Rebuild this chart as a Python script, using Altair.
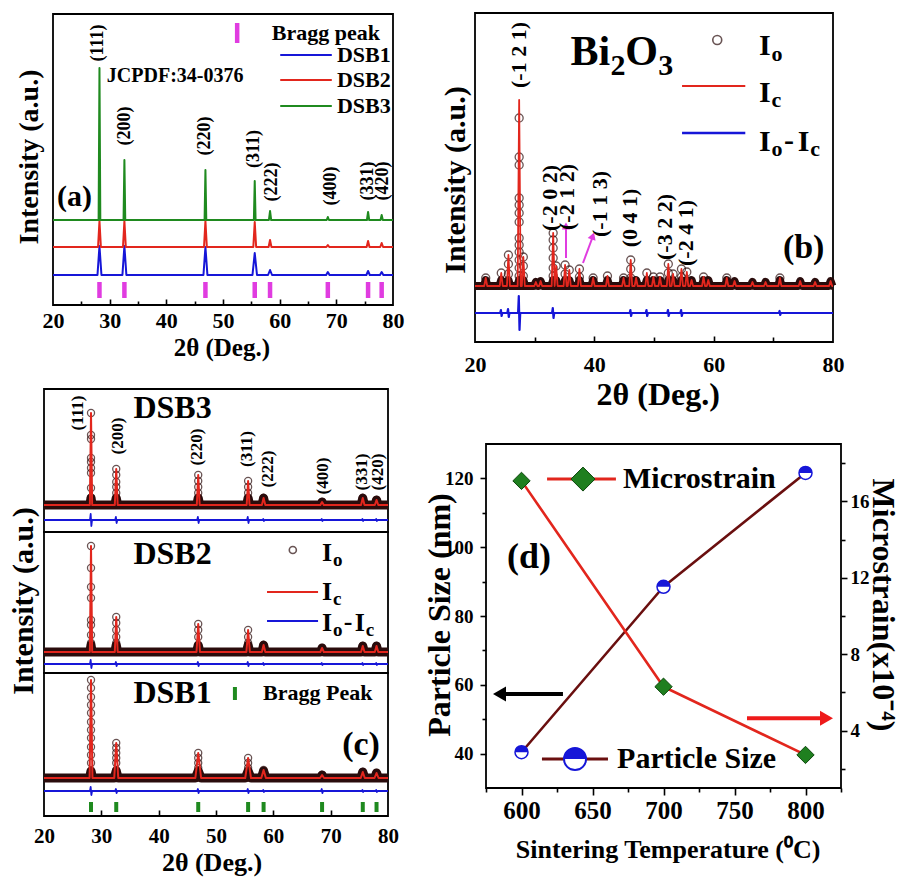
import altair as alt
import pandas as pd

FONT = "Liberation Serif"
BLUE = "#1616d8"
RED = "#e2261d"
GREEN = "#1f8a1f"
MAGENTA = "#e03ce0"
MAROON = "#6a0f0f"
DARK = "#2a0c0c"

# ---------------- panel (a): XRD patterns (offset) ----------------
BRAGG_POS = [28.2, 32.6, 46.9, 55.6, 58.3, 68.5, 75.6, 78.0]
A_DSB1_BASE, A_DSB2_BASE, A_DSB3_BASE = 30, 58, 85
A_DSB1_H = [29, 29, 28, 22, 5, 3, 4, 3]
A_DSB2_H = [26, 26, 26, 25, 7, 2, 6, 4]
A_DSB3_H = [152, 60, 50, 39, 9, 3, 8, 5]
A_DSB1_W = [0.35, 0.35, 0.35, 0.4, 0.35, 0.3, 0.3, 0.3]
A_DSB2_W = [0.25, 0.25, 0.25, 0.25, 0.25, 0.25, 0.25, 0.25]
A_DSB3_W = [0.15, 0.15, 0.15, 0.15, 0.2, 0.2, 0.2, 0.2]
A_HKL = ["(111)", "(200)", "(220)", "(311)", "(222)", "(400)", "(331)", "(420)"]
A_HKL_X = [27.9, 32.7, 46.8, 55.5, 58.6, 69.1, 75.5, 78.2]
A_HKL_Y = [262, 179, 169, 156, 123, 119, 124, 124]
A_X_LABELS = [20, 30, 40, 50, 60, 70, 80]
A_X_MAJOR = [30, 40, 50, 60, 70]
A_X_MINOR = [25, 35, 45, 55, 65, 75]

# ---------------- panel (b): Bi2O3 Rietveld ----------------
B_BASE = 56
B_DIFF_BASE = 29
B_POS = [21.8, 24.4, 25.6, 27.4, 28.1, 30.2, 31.0, 33.1, 33.6, 35.1, 35.8, 37.5, 39.8, 42.2, 44.9,
         46.1, 47.0, 48.8, 49.9, 51.0, 52.4, 53.2, 54.6, 55.5, 56.3, 58.3, 59.1, 62.2, 63.5, 66.5,
         68.7, 71.1, 74.5, 77.0, 79.6]
B_H = [8, 13, 31, 186, 29, 4, 5, 53, 20, 21, 16, 17, 8, 10, 8, 26, 8, 13, 9, 9,
       22, 12, 17, 14, 6, 9, 6, 8, 5, 4, 4, 8, 5, 4, 5]
B_OBS = {27.4: [168, 129, 121, 88, 81, 73, 64, 48, 41, 34, 26, 18, 10],
         33.1: [53, 46, 38, 28, 18, 10], 25.6: [31, 22, 12], 28.1: [29, 20, 10],
         46.1: [26, 17, 8], 52.4: [22, 13], 35.1: [21, 12], 37.5: [17, 9], 35.8: [16],
         24.4: [13], 48.8: [13], 54.6: [17, 9], 55.5: [14], 21.8: [8], 39.8: [8], 42.2: [10],
         44.9: [8], 49.9: [9], 51.0: [9], 53.2: [12], 58.3: [9], 62.2: [8], 71.1: [8], 33.6: [20]}
B_DIFF_POS = [24.4, 25.6, 27.4, 33.1, 46.1, 48.8, 52.4, 54.6, 71.1]
B_DIFF_AMP = [3, 4, 17, 5, 3, 3, 3, 3, 2]
B_HKL = ["(-1 2 1)", "(-2 0 2)", "(-2 1 2)", "(-1 1 3)", "(0 4 1)", "(-3 2 2)", "(-2 4 1)"]
B_HKL_X = [27.4, 32.6, 35.4, 40.9, 46.0, 51.9, 55.4]
B_HKL_Y = [287, 144, 145, 138, 124, 115, 109]
B_X_LABELS = [20, 40, 60, 80]
B_X_MAJOR = [40, 60]
B_X_MINOR = [30, 50, 70]

# ---------------- panel (c): Rietveld of DSB1-3 ----------------
C_BASE = {"DSB3": 311, "DSB2": 164, "DSB1": 38}
C_DIFF_BASE = {"DSB3": 296, "DSB2": 152, "DSB1": 25}
C_H = {"DSB3": [92, 36, 30, 24, 7, 3, 7, 5],
       "DSB2": [106, 35, 28, 22, 7, 4, 6, 6],
       "DSB1": [98, 35, 25, 20, 8, 3, 6, 5]}
C_W = {"DSB3": [0.2, 0.25, 0.25, 0.25, 0.3, 0.3, 0.3, 0.3],
       "DSB2": [0.2, 0.25, 0.3, 0.3, 0.3, 0.3, 0.3, 0.3],
       "DSB1": [0.25, 0.35, 0.5, 0.5, 0.4, 0.35, 0.35, 0.35]}
C_OBS = {"DSB3": [[92, 70, 66, 47, 43, 37, 32, 17, 7], [36, 30, 23, 18, 12], [30, 24, 18, 12],
                  [24, 18, 12], [7], [3], [7], [5]],
         "DSB2": [[106, 84, 65, 54, 32, 27, 17, 9], [35, 29, 22, 15, 9], [28, 22, 15],
                  [22, 15, 9], [7], [4], [6], [6]],
         "DSB1": [[98, 90, 81, 73, 65, 56, 48, 40, 31, 23, 15, 6], [35, 30, 25, 20, 15, 8],
                  [25, 20, 15, 10, 6], [20, 15, 10, 6], [8], [3], [6], [5]]}
C_DIFF_AMP = {"DSB3": [6, 3, 3, 3, 1, 1, 1, 1],
              "DSB2": [4, 2, 2, 2, 1, 1, 1, 1],
              "DSB1": [4, 2, 2, 2, 1, 2, 1, 1]}
C_HKL_X = [26.0, 32.9, 46.7, 55.4, 59.1, 68.7, 75.5, 78.3]
C_HKL_Y = [403, 380, 369, 367, 347, 340, 344, 344]
C_X_LABELS = [20, 30, 40, 50, 60, 70, 80]
C_X_MAJOR = [30, 40, 50, 60, 70]

# ---------------- panel (d): particle size & microstrain ----------------
TEMP = [600, 700, 800]
PSIZE = [40.4, 88.5, 121.6]
MSTRAIN = [17.07, 6.3, 2.73]
D_X_LABELS = [600, 650, 700, 750, 800]
D_X_MINOR = [575, 625, 675, 725, 775, 825]
D_YL_LABELS = [40, 60, 80, 100, 120]
D_YL_MINOR = [50, 70, 90, 110]
D_YR_LABELS = [4, 8, 12, 16]
D_YR_MINOR = [2, 6, 10, 14, 18]

# ---------------- panel geometry: scale domains and pixel ranges ----------------
PANELS = {
    "a": dict(xd=[20, 80], xr=[53, 393], yd=[0, 291], yr=[305, 14]),
    "b": dict(xd=[20, 80], xr=[475, 833], yd=[0, 329], yr=[342, 13]),
    "c": dict(xd=[20, 80], xr=[44, 388], yd=[0, 427], yr=[816, 389]),
    "dL": dict(xd=[575, 825], xr=[486, 841], yd=[30, 130], yr=[788, 444]),
    "dR": dict(xd=[575, 825], xr=[486, 841], yd=[1, 19], yr=[788, 444]),
}
H_TOTAL = 877
W_TOTAL = 909


def sc(p, k):
    g = PANELS[p]
    return alt.Scale(domain=g[k + "d"], range=g[k + "r"], nice=False, zero=False)


def ex(p, f="x", axis=None):
    return alt.X(f"{f}:Q", scale=sc(p, "x"), axis=axis, title=None)


def ey(p, f="y", axis=None):
    return alt.Y(f"{f}:Q", scale=sc(p, "y"), axis=axis, title=None)


def lab_axis(orient, values, offset, size, pad):
    return alt.Axis(orient=orient, values=values, offset=offset, ticks=False, tickSize=0,
                    domain=False, grid=False, labelFont=FONT, labelFontWeight="bold",
                    labelFontSize=size, labelPadding=pad, labelColor="black",
                    labelFlush=False, labelOverlap=False, title=None)


def tick_axis(orient, values, offset, size):
    return alt.Axis(orient=orient, values=values, offset=offset, ticks=True, tickSize=size,
                    tickWidth=1.6, tickColor="black", labels=False, domain=False, grid=False,
                    title=None)


def frame(p, x0, x1, y0, y1, xaxis=None, yaxis=None, opacity=1.0):
    df = pd.DataFrame({"x": [x0], "x2": [x1], "y": [y0], "y2": [y1]})
    return alt.Chart(df).mark_rect(fill="transparent", stroke="black", strokeWidth=1.8,
                                   strokeOpacity=opacity).encode(
        x=ex(p, axis=xaxis), x2="x2:Q", y=ey(p, axis=yaxis), y2="y2:Q")


def profile(base, pos, h, hw, cap=None):
    if not isinstance(hw, list):
        hw = [hw for _ in pos]
    rows = [(20.0, base)]
    for p_, h_, w_ in sorted(zip(pos, h, hw)):
        hh = h_ if cap is None else min(h_, cap)
        rows += [(p_ - w_, base), (p_, base + hh), (p_ + w_, base)]
    rows.append((80.0, base))
    df = pd.DataFrame(rows, columns=["x", "y"])
    df["o"] = range(len(df))
    df["b"] = base
    return df


def diffline(base, pos, amp):
    rows = [(20.0, base)]
    for p_, a_ in sorted(zip(pos, amp)):
        rows += [(p_ - 0.18, base), (p_ - 0.06, base + a_), (p_ + 0.06, base - a_), (p_ + 0.18, base)]
    rows.append((80.0, base))
    df = pd.DataFrame(rows, columns=["x", "y"])
    df["o"] = range(len(df))
    return df


def line(p, df, color, width, detail=False):
    enc = dict(x=ex(p), y=ey(p), order="o:Q")
    if detail:
        enc["detail"] = "g:N"
    return alt.Chart(df).mark_line(color=color, strokeWidth=width, strokeJoin="round").encode(**enc)


def hrule(p, x0, x1, y, color, width):
    df = pd.DataFrame({"x": [x0], "x2": [x1], "y": [y]})
    return alt.Chart(df).mark_rule(color=color, strokeWidth=width).encode(x=ex(p), x2="x2:Q", y=ey(p))


def vrules(p, xs, y0, y1, color, width):
    df = pd.DataFrame({"x": xs, "y": y0, "y2": y1})
    return alt.Chart(df).mark_rule(color=color, strokeWidth=width).encode(x=ex(p), y=ey(p), y2="y2:Q")


def texts(p, rows, align="center", baseline="middle"):
    df = pd.DataFrame(rows, columns=["x", "y", "t", "s", "a"])
    return alt.Chart(df).mark_text(font=FONT, fontWeight="bold", align=align, baseline=baseline,
                                   color="black").encode(
        x=ex(p), y=ey(p), text="t:N", size=alt.Size("s:Q", scale=None),
        angle=alt.Angle("a:Q", scale=None))


def points(p, xs, ys, angles=None, **kw):
    df = pd.DataFrame({"x": xs, "y": ys})
    enc = dict(x=ex(p), y=ey(p))
    if angles is not None:
        df["a"] = angles
        enc["angle"] = alt.Angle("a:Q", scale=None)
    return alt.Chart(df).mark_point(**kw).encode(**enc)


layers = []

# ======================= panel (a) =======================
layers.append(frame("a", 20, 80, 0, 291,
                    xaxis=lab_axis("bottom", A_X_LABELS, 305 - H_TOTAL, 22, 5)))
layers.append(frame("a", 20, 80, 0, 291, xaxis=tick_axis("top", A_X_MAJOR, -305, 6), opacity=0))
layers.append(frame("a", 20, 80, 0, 291, xaxis=tick_axis("top", A_X_MINOR, -305, 4), opacity=0))
layers.append(line("a", profile(A_DSB1_BASE, BRAGG_POS, A_DSB1_H, A_DSB1_W), BLUE, 2))
layers.append(line("a", profile(A_DSB2_BASE, BRAGG_POS, A_DSB2_H, A_DSB2_W), RED, 2))
layers.append(line("a", profile(A_DSB3_BASE, BRAGG_POS, A_DSB3_H, A_DSB3_W), GREEN, 2))
layers.append(vrules("a", BRAGG_POS, 7, 23, MAGENTA, 4.5))
layers.append(vrules("a", [52.5], 262, 282, MAGENTA, 4.5))
layers.append(hrule("a", 60.1, 69.2, 250, BLUE, 2))
layers.append(hrule("a", 60.1, 69.2, 225, RED, 2))
layers.append(hrule("a", 60.1, 69.2, 199, GREEN, 2))
a_center = [(x, y, t, 18, 270) for x, y, t in zip(A_HKL_X, A_HKL_Y, A_HKL)]
a_center += [(15.9, 148, "Intensity (a.u.)", 28, 270), (49.8, -43, "2θ (Deg.)", 25, 0)]
layers.append(texts("a", a_center))
layers.append(texts("a", [(20.7, 108, "(a)", 30, 0), (29.5, 229, "JCPDF:34-0376", 20, 0),
                          (58.6, 272, "Bragg peak", 22, 0), (70.1, 250, "DSB1", 22, 0),
                          (70.1, 225, "DSB2", 22, 0), (70.1, 199, "DSB3", 22, 0)], align="left"))

# ======================= panel (b) =======================
layers.append(frame("b", 20, 80, 0, 329,
                    xaxis=lab_axis("bottom", B_X_LABELS, 342 - H_TOTAL, 22, 12)))
layers.append(frame("b", 20, 80, 0, 329, xaxis=tick_axis("top", B_X_MAJOR, -342, 6), opacity=0))
layers.append(frame("b", 20, 80, 0, 329, xaxis=tick_axis("top", B_X_MINOR, -342, 5), opacity=0))
b_prof = profile(B_BASE, B_POS, B_H, 0.25)
layers.append(alt.Chart(b_prof).mark_area(color=RED, opacity=0.9).encode(
    x=ex("b"), y=ey("b"), y2="b:Q", order="o:Q"))
layers.append(line("b", profile(B_BASE, B_POS, B_H, 0.3, cap=6), DARK, 8))
bx, by = [], []
for pk, hs in B_OBS.items():
    for h_ in hs:
        bx.append(pk)
        by.append(B_BASE + h_)
layers.append(points("b", bx, by, shape="circle", size=64, filled=False, color=DARK, strokeWidth=1.3))
layers.append(line("b", b_prof, RED, 1.8))
layers.append(line("b", diffline(B_DIFF_BASE, B_DIFF_POS, B_DIFF_AMP), BLUE, 2.2))
# legend
layers.append(points("b", [60.6], [302], shape="circle", size=80, filled=False, color=DARK, strokeWidth=1.6))
layers.append(hrule("b", 54.7, 65.3, 256, RED, 2.2))
layers.append(hrule("b", 54.7, 65.3, 209, BLUE, 2.6))
# magenta arrows
arr = pd.DataFrame({"x": [35.25, 35.25, 38.1, 39.65], "y": [84, 113, 79, 104], "g": [1, 1, 2, 2],
                    "o": [0, 1, 0, 1]})
layers.append(line("b", arr, MAGENTA, 2, detail=True))
layers.append(points("b", [35.25, 39.75], [116, 106], angles=[0, 20], shape="triangle-up", size=70,
                     filled=True, color=MAGENTA, opacity=1))
b_center = [(x, y, t, 22, 270) for x, y, t in zip(B_HKL_X, B_HKL_Y, B_HKL)]
b_center += [(16.8, 162, "Intensity (a.u.)", 30, 270), (50.7, -53, "2θ (Deg.)", 32, 0)]
layers.append(texts("b", b_center))
layers.append(texts("b", [(71.6, 94, "(b)", 34, 0),
                          (67.6, 296, "I", 30, 0), (69.7, 288, "o", 22, 0),
                          (67.6, 249, "I", 30, 0), (69.7, 242, "c", 22, 0),
                          (67.6, 200, "I", 30, 0), (69.7, 193, "o", 22, 0), (71.8, 201, "-", 30, 0),
                          (74.1, 200, "I", 30, 0), (76.2, 193, "c", 22, 0)], align="left"))
layers.append(texts("b", [(36.0, 277, "Bi", 42, 0), (42.7, 267, "2", 30, 0),
                          (45.2, 277, "O", 42, 0), (50.7, 267, "3", 30, 0)],
                    align="left", baseline="alphabetic"))

# ======================= panel (c) =======================
layers.append(frame("c", 20, 80, 0, 143,
                    xaxis=lab_axis("bottom", C_X_LABELS, 816 - H_TOTAL, 21, 9)))
layers.append(frame("c", 20, 80, 143, 284))
layers.append(frame("c", 20, 80, 284, 427))
layers.append(frame("c", 20, 80, 0, 427, xaxis=tick_axis("top", C_X_MAJOR, -816, 6), opacity=0))
cx, cy = [], []
for name in ["DSB3", "DSB2", "DSB1"]:
    base = C_BASE[name]
    layers.append(line("c", profile(base, BRAGG_POS, C_H[name], C_W[name], cap=7), DARK, 9))
    for pk, hs in zip(BRAGG_POS, C_OBS[name]):
        for h_ in hs:
            cx.append(pk)
            cy.append(base + h_)
layers.append(points("c", cx, cy, shape="circle", size=50, filled=False, color=DARK, strokeWidth=1.3))
for name in ["DSB3", "DSB2", "DSB1"]:
    layers.append(line("c", profile(C_BASE[name], BRAGG_POS, C_H[name], C_W[name]), RED, 2))
    layers.append(line("c", diffline(C_DIFF_BASE[name], BRAGG_POS, C_DIFF_AMP[name]), BLUE, 1.8))
layers.append(vrules("c", BRAGG_POS, 4, 14, GREEN, 4))
# legends
layers.append(points("c", [63.4], [266], shape="circle", size=50, filled=False, color=DARK, strokeWidth=1.6))
layers.append(hrule("c", 58.9, 67.8, 224, RED, 2))
layers.append(hrule("c", 58.9, 67.8, 195, BLUE, 2))
layers.append(vrules("c", [53.3], 116, 129, GREEN, 4))
c_center = [(x, y, t, 17, 270) for x, y, t in zip(C_HKL_X, C_HKL_Y, A_HKL)]
c_center += [(16.5, 215, "Intensity (a.u.)", 30, 270), (49.3, -47, "2θ (Deg.)", 26, 0)]
layers.append(texts("c", c_center))
layers.append(texts("c", [(35.6, 408, "DSB3", 32, 0), (35.6, 262, "DSB2", 32, 0),
                          (35.6, 123, "DSB1", 32, 0), (72.0, 71, "(c)", 34, 0),
                          (58.2, 123, "Bragg Peak", 22, 0),
                          (68.5, 263, "I", 26, 0), (70.4, 256, "o", 19, 0),
                          (68.5, 224, "I", 26, 0), (70.4, 217, "c", 19, 0),
                          (68.5, 193, "I", 26, 0), (70.4, 186, "o", 19, 0), (72.3, 194, "-", 26, 0),
                          (74.2, 193, "I", 26, 0), (76.1, 186, "c", 19, 0)], align="left"))

# ======================= panel (d) =======================
layers.append(frame("dL", 575, 825, 30, 130,
                    xaxis=lab_axis("bottom", D_X_LABELS, 788 - H_TOTAL, 25, 10),
                    yaxis=lab_axis("left", D_YL_LABELS, -486, 19, 13)))
layers.append(frame("dL", 575, 825, 30, 130, opacity=0,
                    xaxis=tick_axis("bottom", D_X_LABELS, 788 - H_TOTAL, 7),
                    yaxis=tick_axis("left", D_YL_LABELS, -486, 6)))
layers.append(frame("dL", 575, 825, 30, 130, opacity=0,
                    xaxis=tick_axis("bottom", D_X_MINOR, 788 - H_TOTAL, 4),
                    yaxis=tick_axis("left", D_YL_MINOR, -486, 4)))
layers.append(frame("dR", 575, 825, 1, 19, opacity=0,
                    yaxis=lab_axis("right", D_YR_LABELS, 841 - W_TOTAL, 19, 9)))
layers.append(frame("dR", 575, 825, 1, 19, opacity=0,
                    yaxis=tick_axis("right", D_YR_LABELS, 841 - W_TOTAL, 6)))
layers.append(frame("dR", 575, 825, 1, 19, opacity=0,
                    yaxis=tick_axis("right", D_YR_MINOR, 841 - W_TOTAL, 4)))
dps = pd.DataFrame({"x": TEMP, "y": PSIZE, "o": [0, 1, 2]})
dms = pd.DataFrame({"x": TEMP, "y": MSTRAIN, "o": [0, 1, 2]})
layers.append(line("dL", dps, MAROON, 2.6))
layers.append(line("dR", dms, RED, 2.6))
HALF = "M -1 0 A 1 1 0 0 1 1 0 Z"
layers.append(points("dL", TEMP, PSIZE, shape="circle", size=169, filled=True, fill="white",
                     stroke=BLUE, strokeWidth=1.5, opacity=1))
layers.append(points("dL", TEMP, PSIZE, shape=HALF, size=169, filled=True, color=BLUE, opacity=1))
layers.append(points("dR", TEMP, MSTRAIN, shape="diamond", size=300, filled=True, fill="#1f7f1f",
                     stroke="#0b470b", strokeWidth=1, opacity=1))
# arrows
arr_d = pd.DataFrame({"x": [629.2, 587.0, 758.8, 812.0], "y": [57.3, 57.3, 50.3, 50.3],
                      "g": [1, 1, 2, 2], "o": [0, 1, 0, 1]})
layers.append(alt.Chart(arr_d[arr_d.g == 1]).mark_line(color="black", strokeWidth=4).encode(
    x=ex("dL"), y=ey("dL"), order="o:Q"))
layers.append(alt.Chart(arr_d[arr_d.g == 2]).mark_line(color="#ee1a1a", strokeWidth=4).encode(
    x=ex("dL"), y=ey("dL"), order="o:Q"))
layers.append(points("dL", [584.5], [57.3], shape="triangle-left", size=225, filled=True,
                     color="black", opacity=1))
layers.append(points("dL", [814.8], [50.3], shape="triangle-right", size=225, filled=True,
                     color="#ee1a1a", opacity=1))
# legend
layers.append(hrule("dL", 618.0, 666.5, 119.8, RED, 3))
layers.append(points("dL", [643.3], [119.8], shape="diamond", size=576, filled=True, fill="#1f7f1f",
                     stroke="#0b470b", strokeWidth=1, opacity=1))
layers.append(hrule("dL", 614.4, 660.9, 38.4, MAROON, 3))
layers.append(points("dL", [637.7], [38.4], shape="circle", size=484, filled=True, fill="white",
                     stroke=BLUE, strokeWidth=2, opacity=1))
layers.append(points("dL", [637.7], [38.4], shape=HALF, size=484, filled=True, color=BLUE, opacity=1))
layers.append(texts("dL", [(542.5, 80.3, "Particle Size (nm)", 32, 270),
                           (854.6, 83.2, "Microstrain(x10⁻⁴)", 32, 90),
                           (703.2, 12.0, "Sintering Temperature (⁰C)", 26, 0)]))
layers.append(texts("dL", [(589.8, 97.2, "(d)", 36, 0), (671.5, 119.8, "Microstrain", 30, 0),
                           (667.3, 38.4, "Particle Size", 30, 0)], align="left"))

chart = alt.layer(*layers).resolve_scale(x="independent", y="independent").properties(
    width=W_TOTAL, height=H_TOTAL, autosize=alt.AutoSizeParams(type="none"), padding=0,
    background="white"
).configure_view(stroke="transparent")

chart.save("out.html", embed_options={"renderer": "svg", "actions": False})
